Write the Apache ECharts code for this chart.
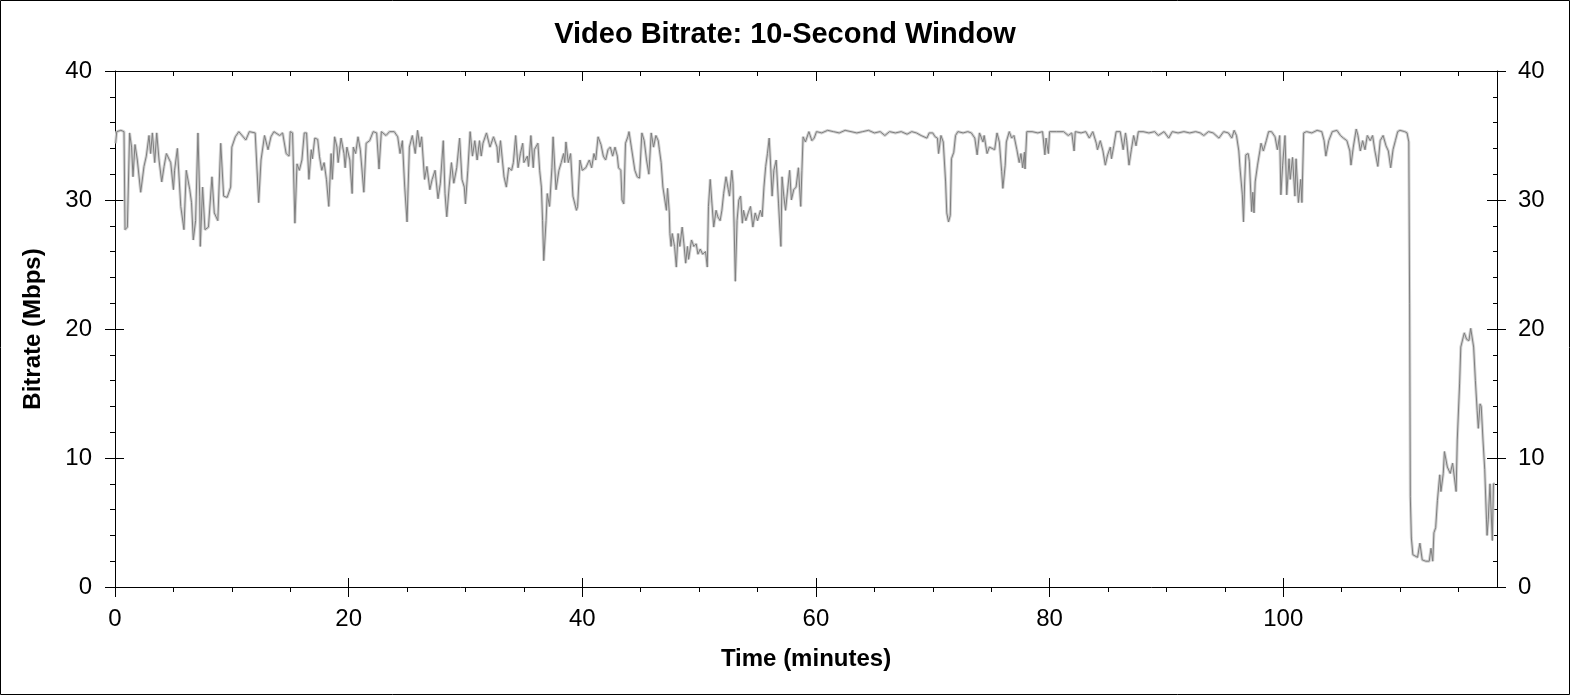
<!DOCTYPE html>
<html>
<head>
<meta charset="utf-8">
<script src="https://cdn.jsdelivr.net/npm/echarts@6/dist/echarts.min.js"></script>
<style>
html,body{margin:0;padding:0;background:#fff;}
#chart{width:1570px;height:695px;}
</style>
</head>
<body>
<div id="chart"></div>
<script>
// ---- data ----
const titleText = 'Video Bitrate: 10-Second Window';
const xAxisName = 'Time (minutes)';
const yAxisName = 'Bitrate (Mbps)';
const xMin = 0, xMax = 118.3;
const yMin = 0, yMax = 40;
const xMajorTicks = [0, 20, 40, 60, 80, 100];
const xMinorTicks = [5, 10, 15, 25, 30, 35, 45, 50, 55, 65, 70, 75, 85, 90, 95, 105, 110, 115];

const timeMin = [
0.05,0.15,0.5,0.77,0.86,1.06,1.25,1.42,1.54,1.71,1.91,2.2,2.48,2.68,2.91,3.05,3.2,3.4,3.57,3.77,
4.0,4.2,4.4,4.77,5.0,5.1,5.34,5.63,5.83,5.9,6.1,6.4,6.55,6.7,6.9,7.1,7.25,7.3,7.5,7.7,
8.0,8.3,8.5,8.8,9.05,9.3,9.6,9.9,10.0,10.3,10.6,11.2,11.5,12.0,12.3,12.5,12.8,13.1,13.35,13.6,
14.1,14.35,14.65,14.9,15.0,15.2,15.4,15.58,15.78,16.0,16.2,16.4,16.6,16.8,16.9,17.1,17.35,17.5,17.7,17.9,
18.1,18.3,18.5,18.6,18.8,19.0,19.1,19.35,19.6,19.7,19.85,20.1,20.3,20.4,20.6,20.8,21.0,21.3,21.5,21.8,
22.1,22.4,22.6,22.8,23.2,23.5,23.9,24.2,24.4,24.6,24.8,25.0,25.2,25.45,25.7,25.9,26.1,26.25,26.5,26.7,
26.95,27.15,27.4,27.65,27.85,28.1,28.25,28.4,28.6,28.8,29.0,29.25,29.5,29.7,29.9,30.0,30.2,30.4,30.6,30.8,
31.0,31.2,31.35,31.5,31.8,32.1,32.4,32.7,32.8,33.0,33.3,33.5,33.7,33.95,34.1,34.3,34.5,34.7,34.9,35.0,
35.3,35.4,35.6,35.8,35.9,36.2,36.35,36.5,36.6,36.7,36.9,37.0,37.2,37.4,37.5,37.75,38.0,38.2,38.4,38.5,
38.6,38.8,39.0,39.2,39.5,39.6,39.8,40.0,40.3,40.6,40.8,41.0,41.15,41.35,41.6,41.8,42.0,42.2,42.4,42.6,
42.8,43.0,43.1,43.3,43.4,43.55,43.7,43.9,44.0,44.2,44.5,44.7,44.9,45.1,45.3,45.5,45.7,45.9,46.1,46.3,
46.5,46.6,46.75,46.9,47.05,47.2,47.3,47.45,47.5,47.6,47.7,47.9,48.05,48.2,48.35,48.55,48.7,48.85,49.0,49.1,
49.35,49.55,49.75,49.9,50.1,50.3,50.55,50.7,50.8,50.95,51.1,51.25,51.45,51.6,51.8,51.95,52.1,52.3,52.5,52.6,
52.8,52.9,53.0,53.1,53.25,53.4,53.55,53.7,53.8,54.0,54.2,54.4,54.6,54.8,55.0,55.25,55.4,55.55,55.7,55.85,
56.0,56.1,56.25,56.4,56.6,56.8,57.0,57.1,57.25,57.4,57.6,57.75,57.9,58.1,58.3,58.5,58.6,58.7,58.8,58.9,
59.1,59.4,59.65,59.85,60.05,60.5,61.0,61.5,62.0,62.5,63.0,63.5,64.0,64.5,65.0,65.5,65.9,66.3,66.8,67.3,
67.8,68.2,68.6,69.0,69.5,69.7,70.0,70.2,70.4,70.5,70.7,70.9,71.1,71.2,71.35,71.5,71.6,71.8,71.95,72.15,
72.6,73.0,73.3,73.6,73.8,74.0,74.3,74.4,74.65,74.85,75.0,75.3,75.5,75.7,75.9,76.0,76.2,76.3,76.55,76.75,
76.95,77.2,77.4,77.55,77.7,77.85,77.9,78.05,78.5,79.0,79.4,79.6,79.7,79.9,80.0,80.6,81.2,81.6,81.9,82.1,
82.2,82.7,83.1,83.4,83.7,84.0,84.1,84.34,84.57,84.77,84.97,85.2,85.3,85.5,85.7,86.05,86.3,86.5,86.6,86.8,
87.0,87.2,87.4,87.6,88.0,88.5,89.0,89.3,89.8,90.2,90.5,91.0,91.5,92.0,92.5,92.9,93.2,93.6,94.0,94.5,
94.9,95.3,95.6,95.8,96.0,96.2,96.3,96.5,96.6,96.7,96.8,97.0,97.1,97.3,97.4,97.5,97.6,97.8,98.0,98.1,
98.3,98.55,98.75,99.0,99.3,99.5,99.7,99.8,99.95,100.15,100.3,100.5,100.6,100.8,101.0,101.1,101.3,101.5,101.6,101.75,
102.0,102.45,102.9,103.3,103.5,103.65,103.9,104.2,104.6,104.9,105.15,105.45,105.7,105.8,106.0,106.25,106.4,106.6,106.8,107.0,
107.2,107.45,107.65,107.85,108.1,108.3,108.55,108.8,109.0,109.2,109.4,109.6,109.8,110.0,110.4,110.6,110.75,110.82,110.88,110.97,
111.1,111.5,111.7,111.9,112.2,112.5,112.65,112.8,112.9,113.05,113.2,113.4,113.5,113.7,113.8,114.05,114.3,114.5,114.65,114.8,
114.9,115.1,115.2,115.5,115.7,115.9,116.05,116.2,116.3,116.45,116.6,116.7,116.85,116.95,117.1,117.25,117.4,117.45,117.55,117.7,
117.8,117.9,118.0,118.1
];

const bitrateMbps = [
34.4,35.3,35.4,35.3,27.7,27.9,35.2,34.1,31.8,34.3,33.1,30.6,32.6,33.4,35.0,33.6,35.2,32.9,35.2,33.1,
31.4,32.6,33.6,32.9,30.8,32.3,34.0,29.5,28.2,27.7,32.3,30.8,29.8,26.9,28.4,35.2,30.3,26.4,31.0,27.7,
27.9,31.8,29.0,28.4,34.4,30.3,30.2,31.0,34.1,34.9,35.3,34.65,35.3,35.2,29.8,33.1,35.0,33.9,34.9,35.3,
35.0,35.2,33.6,33.4,35.3,35.2,28.2,32.8,32.3,33.1,35.2,35.2,31.6,33.9,33.2,34.8,34.7,33.4,32.3,32.9,
31.6,29.5,33.6,31.6,34.9,34.1,32.9,34.8,33.6,32.5,34.1,33.1,30.5,34.1,33.6,34.9,33.9,30.6,34.4,34.6,
35.3,35.2,32.4,35.3,35.0,35.3,35.3,34.9,33.6,34.6,31.0,28.3,34.1,35.0,33.6,35.4,34.1,34.9,31.6,32.6,
30.8,31.6,32.3,30.1,31.3,34.6,30.5,28.7,31.0,32.9,31.3,32.5,34.8,31.6,31.0,29.7,32.3,35.3,33.4,34.6,
33.1,34.6,33.4,34.4,35.2,34.1,34.9,34.1,32.9,34.6,31.8,31.0,32.5,32.3,32.9,35.0,32.5,33.6,34.4,32.9,
33.4,32.6,35.0,32.5,33.9,34.4,32.3,31.0,28.4,25.3,28.4,30.5,29.5,32.5,34.9,30.8,32.3,32.9,33.6,32.9,
34.5,32.9,33.6,30.3,29.2,29.5,33.1,32.3,32.5,33.1,32.5,33.6,33.1,34.9,34.3,33.4,33.1,33.9,34.1,33.4,
34.1,33.4,32.5,32.3,30.0,29.7,34.4,34.9,35.3,34.1,32.3,31.8,31.7,35.2,34.6,33.1,32.0,35.2,34.1,35.0,
34.6,33.9,32.9,31.0,31.0,29.2,30.9,29.0,27.4,26.4,27.4,26.4,24.8,27.4,26.4,27.9,26.6,25.1,26.4,25.4,
26.9,26.4,26.6,25.8,26.2,25.8,26.0,24.8,29.5,31.6,29.7,27.9,29.2,28.7,28.4,29.2,30.5,31.8,30.8,30.3,
32.3,31.3,27.9,23.7,28.4,30.0,30.3,28.2,29.2,28.4,29.0,29.5,27.9,29.0,28.4,29.2,28.7,31.0,32.6,33.6,
34.8,33.1,30.3,32.3,33.1,29.7,26.4,31.8,30.3,29.2,31.0,32.3,30.0,30.8,31.0,32.5,31.0,29.5,32.3,34.9,
34.5,35.3,34.6,34.8,35.3,35.2,35.4,35.3,35.2,35.4,35.3,35.2,35.3,35.4,35.2,35.3,35.0,35.3,35.2,35.3,
35.1,35.3,35.2,35.0,34.8,35.2,35.2,34.9,34.8,33.6,35.0,34.5,31.4,29.0,28.3,28.8,33.2,33.7,35.0,35.3,
35.2,35.3,35.2,34.8,33.5,35.2,34.5,35.0,33.6,34.1,34.2,33.9,35.2,34.5,32.2,30.9,32.7,34.5,35.3,34.8,
35.0,33.9,32.9,33.6,32.5,33.7,32.4,35.3,35.3,35.2,35.3,33.5,34.8,33.6,35.3,35.3,35.3,35.0,35.2,33.8,
35.3,35.2,35.3,34.8,35.3,34.4,33.9,34.6,33.8,32.7,33.5,34.1,33.2,34.2,35.3,35.3,33.9,35.2,34.6,32.7,
33.9,35.0,34.2,35.3,35.3,35.2,35.3,35.0,35.3,34.8,35.3,35.2,35.3,35.2,35.3,35.2,35.0,35.3,35.2,34.8,
35.3,35.2,34.8,35.4,35.0,33.8,32.5,30.4,28.3,31.4,33.5,33.6,33.0,29.1,30.6,29.0,31.4,32.7,33.8,34.4,
33.8,34.6,35.3,35.3,34.9,33.9,35.0,30.4,32.7,35.0,30.4,33.2,31.6,33.3,30.3,33.2,29.8,31.6,29.8,35.2,
35.3,35.2,35.4,35.3,34.6,33.4,34.6,35.3,35.4,35.0,34.8,34.6,33.8,32.7,34.1,35.5,35.0,33.8,34.6,33.9,
35.0,34.6,35.0,33.8,32.6,34.6,35.0,34.2,33.8,32.5,33.9,34.6,35.3,35.4,35.3,35.2,34.5,22.0,7.0,3.8,
2.5,2.3,3.4,2.1,2.0,2.0,3.0,2.0,4.2,4.6,6.7,8.7,7.4,8.8,10.5,9.3,8.8,9.6,9.6,7.4,
11.4,15.8,18.6,19.7,19.2,19.1,20.05,20.2,18.6,16.0,13.7,12.3,14.2,14.0,11.4,9.1,5.2,4.0,5.2,8.0,
7.9,3.6,8.0,8.0
];

// ---- chart ----
const seriesData = timeMin.map((t, i) => [t, bitrateMbps[i]]);
const FONT = '"Liberation Sans", Arial, sans-serif';
const black = '#000';

function hiddenLine() { return { show: false }; }

const chart = echarts.init(document.getElementById('chart'), null, { renderer: 'canvas' });
chart.setOption({
  animation: false,
  backgroundColor: '#fff',
  title: {
    text: titleText,
    left: 'center',
    top: 15,
    textStyle: { fontFamily: FONT, fontSize: 29, fontWeight: 'bold', color: black }
  },
  graphic: [{
    type: 'rect',
    shape: { x: 0.5, y: 0.5, width: 1569, height: 694 },
    style: { fill: 'none', stroke: black, lineWidth: 1 },
    silent: true
  }],
  grid: { left: 115, right: 73, top: 71, bottom: 108, containLabel: false, outerBoundsMode: 'none' },
  xAxis: [
    { // bottom: line, outward major ticks, labels, name
      type: 'value', position: 'bottom', min: xMin, max: xMax,
      axisLine: { show: true, onZero: false, lineStyle: { color: black, width: 1 } },
      axisTick: { show: true, inside: false, length: 10, customValues: xMajorTicks, lineStyle: { color: black } },
      axisLabel: { show: true, customValues: xMajorTicks, margin: 20, fontFamily: FONT, fontSize: 24, color: black },
      splitLine: { show: false },
      name: xAxisName, nameLocation: 'middle', nameGap: 60,
      nameTextStyle: { fontFamily: FONT, fontSize: 24, fontWeight: 'bold', color: black }
    },
    { // bottom: outward minor ticks
      type: 'value', position: 'bottom', min: xMin, max: xMax,
      axisLine: { show: false, onZero: false },
      axisTick: { show: true, inside: false, length: 5, customValues: xMinorTicks, lineStyle: { color: black } },
      axisLabel: { show: false }, splitLine: { show: false }
    },
    { // bottom: inward part of major ticks
      type: 'value', position: 'bottom', min: xMin, max: xMax,
      axisLine: { show: false, onZero: false },
      axisTick: { show: true, inside: true, length: 9, customValues: xMajorTicks, lineStyle: { color: black } },
      axisLabel: { show: false }, splitLine: { show: false }
    },
    { // top: line with inward major ticks
      type: 'value', position: 'top', min: xMin, max: xMax,
      axisLine: { show: true, onZero: false, lineStyle: { color: black, width: 1 } },
      axisTick: { show: true, inside: true, length: 10, customValues: xMajorTicks, lineStyle: { color: black } },
      axisLabel: { show: false }, splitLine: { show: false }
    },
    { // top: inward minor ticks
      type: 'value', position: 'top', min: xMin, max: xMax,
      axisLine: { show: false, onZero: false },
      axisTick: { show: true, inside: true, length: 5, customValues: xMinorTicks, lineStyle: { color: black } },
      axisLabel: { show: false }, splitLine: { show: false }
    }
  ],
  yAxis: [
    { // left: line, outward ticks + minor, labels, name
      type: 'value', position: 'left', min: yMin, max: yMax, interval: 10,
      axisLine: { show: true, onZero: false, lineStyle: { color: black, width: 1 } },
      axisTick: { show: true, inside: false, length: 10, lineStyle: { color: black } },
      minorTick: { show: true, splitNumber: 5, length: 5, lineStyle: { color: black } },
      axisLabel: { show: true, margin: 23, fontFamily: FONT, fontSize: 24, color: black },
      splitLine: { show: false },
      name: yAxisName, nameLocation: 'middle', nameGap: 70,
      nameTextStyle: { fontFamily: FONT, fontSize: 24, fontWeight: 'bold', color: black }
    },
    { // left: inward part of major ticks
      type: 'value', position: 'left', min: yMin, max: yMax, interval: 10,
      axisLine: { show: false, onZero: false },
      axisTick: { show: true, inside: true, length: 9, lineStyle: { color: black } },
      axisLabel: { show: false }, splitLine: { show: false }
    },
    { // right: line, inward ticks + minor, labels
      type: 'value', position: 'right', min: yMin, max: yMax, interval: 10,
      axisLine: { show: true, onZero: false, lineStyle: { color: black, width: 1 } },
      axisTick: { show: true, inside: true, length: 10, lineStyle: { color: black } },
      minorTick: { show: true, splitNumber: 5, length: 4, lineStyle: { color: black } },
      axisLabel: { show: true, margin: 21, fontFamily: FONT, fontSize: 24, color: black },
      splitLine: { show: false }
    },
    { // right: outward part of major ticks
      type: 'value', position: 'right', min: yMin, max: yMax, interval: 10,
      axisLine: { show: false, onZero: false },
      axisTick: { show: true, inside: false, length: 9, lineStyle: { color: black } },
      axisLabel: { show: false }, splitLine: { show: false }
    }
  ],
  series: [
    {
      type: 'line', xAxisIndex: 0, yAxisIndex: 0,
      data: seriesData, showSymbol: false, silent: true,
      lineStyle: { color: '#d2d2d2', width: 3 }, z: 1
    },
    {
      type: 'line', xAxisIndex: 0, yAxisIndex: 0,
      data: seriesData, showSymbol: false, silent: true,
      lineStyle: { color: '#7f7f7f', width: 1 }, z: 2
    }
  ]
});
</script>
</body>
</html>
